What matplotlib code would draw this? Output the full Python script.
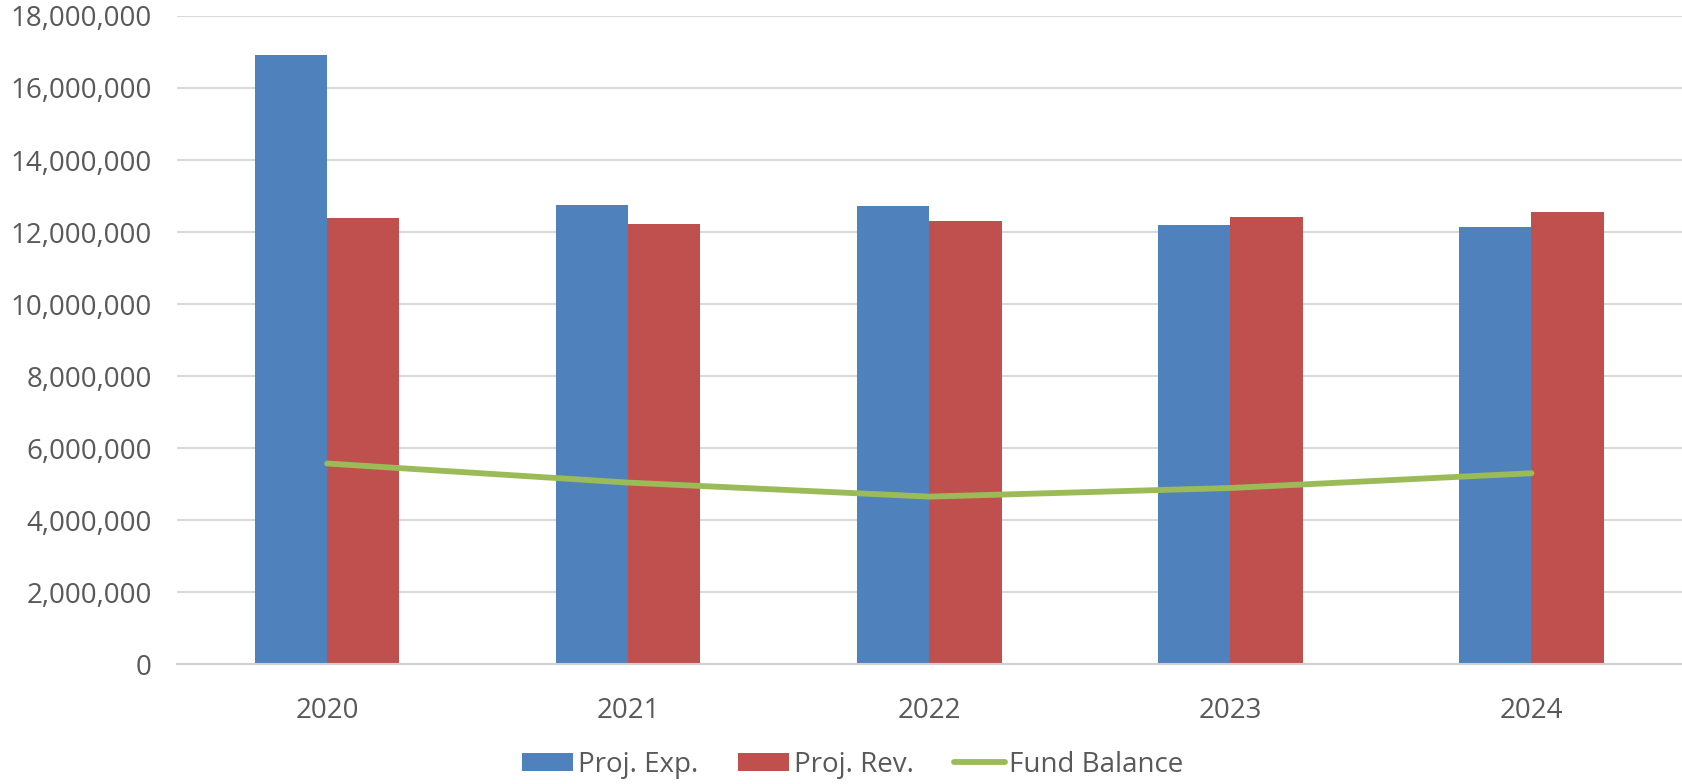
import matplotlib.pyplot as plt
import numpy as np
from matplotlib.ticker import FuncFormatter

years = ["2020", "2021", "2022", "2023", "2024"]
proj_exp = [16930000, 12750000, 12720000, 12190000, 12130000]
proj_rev = [12400000, 12220000, 12310000, 12430000, 12550000]
fund_balance = [5570000, 5040000, 4650000, 4890000, 5300000]

plt.rcParams["font.family"] = ["Open Sans", "DejaVu Sans"]
text_color = "#595959"

fig = plt.figure(figsize=(16.82, 7.84), dpi=100)
ax = fig.add_axes([0.105, 0.153, 0.895, 0.8266])

x = np.arange(len(years))
w = 0.24
b1 = ax.bar(x - w / 2, proj_exp, width=w, color="#4F81BD", label="Proj. Exp.", zorder=2)
b2 = ax.bar(x + w / 2, proj_rev, width=w, color="#C0504D", label="Proj. Rev.", zorder=2)
ln, = ax.plot(x, fund_balance, color="#9BBB59", linewidth=4.2, label="Fund Balance",
              solid_capstyle="round", zorder=3)

ax.set_xlim(-0.5, 4.5)
ax.set_ylim(0, 18000000)
ax.set_yticks(np.arange(0, 18000001, 2000000))
ax.yaxis.set_major_formatter(FuncFormatter(lambda v, p: f"{int(v):,}"))
ax.set_xticks(x)
ax.set_xticklabels(years)

ax.grid(axis="y", color="#D9D9D9", linewidth=1.5, zorder=0)
for s in ["top", "right", "left"]:
    ax.spines[s].set_visible(False)
ax.spines["bottom"].set_color("#D0D0D0")
ax.spines["bottom"].set_linewidth(1.5)
ax.tick_params(axis="both", length=0, labelsize=20, labelcolor=text_color)
ax.tick_params(axis="x", pad=24)
ax.tick_params(axis="y", pad=18)

fig.legend([b1, b2, ln], ["Proj. Exp.", "Proj. Rev.", "Fund Balance"],
           loc="lower center", bbox_to_anchor=(0.507, -0.025), ncol=3, frameon=False,
           fontsize=20, labelcolor=text_color, handlelength=1.85, handleheight=0.62,
           handletextpad=0.15, columnspacing=1.45)

fig.savefig("out.png", dpi=100)
